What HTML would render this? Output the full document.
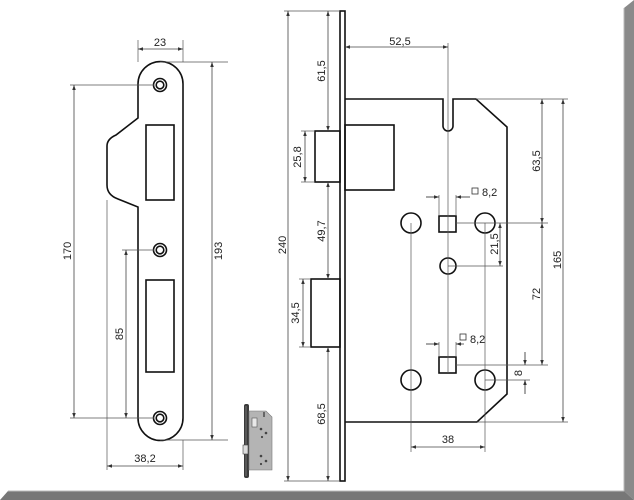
<!DOCTYPE html>
<html><head><meta charset="utf-8"><style>
html,body{margin:0;padding:0;background:#fff;width:634px;height:500px;overflow:hidden}
svg{display:block}
text{font-family:"Liberation Sans",sans-serif;font-size:11px;fill:#222}
</style></head><body>
<svg width="634" height="500" viewBox="0 0 634 500" xmlns="http://www.w3.org/2000/svg">
<defs>
<marker id="a" viewBox="0 0 10 10" refX="10" refY="5" markerWidth="7" markerHeight="5" orient="auto-start-reverse" markerUnits="userSpaceOnUse"><path d="M0,1.5 L10,5 L0,8.5z" fill="#333"/></marker>
</defs>
<polygon points="624,8 634,0 634,500 624,491" fill="#8a8a8a"/>
<polygon points="8,491 624,491 634,500 0,500" fill="#777"/>
<line x1="624" y1="8" x2="624" y2="491" stroke="#bbb" stroke-width="1"/>
<line x1="8" y1="491" x2="624" y2="491" stroke="#bbb" stroke-width="1"/>

<g fill="none" stroke="#111" stroke-width="1.6">
<path d="M138,84 A22.5,22.5 0 0 1 183,84 L183,418 A22.5,22.5 0 0 1 138,418 L138,207 L118,199 Q107,195 107,185 L107,146 Q107,139 116,135 L138,118 Z"/>
<rect x="146" y="125" width="28" height="75"/>
<rect x="146" y="280" width="28" height="92"/>
<circle cx="160" cy="85" r="6.5"/><circle cx="160" cy="85" r="3.8"/>
<circle cx="160" cy="250" r="6.5"/><circle cx="160" cy="250" r="3.8"/>
<circle cx="160" cy="418" r="6.5"/><circle cx="160" cy="418" r="3.8"/>
<rect x="340" y="11" width="5" height="470"/>
<path d="M345,99 L443,99 L443,126 A5,5 0 0 0 453,126 L453,99 L476,99 L507,127 L507,394 L477,422 L345,422"/>
<rect x="315" y="131" width="25" height="51"/>
<rect x="345" y="125" width="49" height="65"/>
<rect x="311" y="279" width="29" height="68"/>
<circle cx="411" cy="223" r="10"/><circle cx="485" cy="223" r="10"/>
<rect x="439" y="216" width="17" height="16"/>
<circle cx="448" cy="266" r="8"/>
<rect x="439" y="357" width="17" height="16"/>
<circle cx="411" cy="380" r="10"/><circle cx="485" cy="380" r="10"/>
</g>

<g stroke="#555" stroke-width="0.7" fill="none">
<line x1="138" y1="40" x2="138" y2="62"/><line x1="183" y1="40" x2="183" y2="62"/>
<line x1="160" y1="62" x2="228" y2="62"/><line x1="160" y1="440" x2="228" y2="440"/>
<line x1="70" y1="85" x2="154" y2="85"/><line x1="70" y1="418" x2="154" y2="418"/>
<line x1="122" y1="250" x2="154" y2="250"/>
<line x1="107" y1="200" x2="107" y2="470"/><line x1="183" y1="440" x2="183" y2="470"/>
<line x1="284" y1="11" x2="340" y2="11"/><line x1="284" y1="481" x2="340" y2="481"/>
<line x1="301" y1="131" x2="315" y2="131"/><line x1="301" y1="182" x2="315" y2="182"/>
<line x1="299" y1="279" x2="311" y2="279"/><line x1="299" y1="347" x2="311" y2="347"/>
<line x1="448" y1="43" x2="448" y2="373"/>
<line x1="411" y1="223" x2="411" y2="452"/><line x1="485" y1="223" x2="485" y2="452"/>
<line x1="476" y1="99" x2="568" y2="99"/><line x1="456" y1="223" x2="548" y2="223"/>
<line x1="456" y1="365" x2="548" y2="365"/><line x1="477" y1="422" x2="568" y2="422"/>
<line x1="448" y1="266" x2="503" y2="266"/><line x1="485" y1="380" x2="530" y2="380"/>
<line x1="439" y1="195" x2="439" y2="216"/><line x1="456" y1="195" x2="456" y2="216"/>
<line x1="439" y1="342" x2="439" y2="357"/><line x1="456" y1="342" x2="456" y2="357"/>
<line x1="426" y1="197" x2="439" y2="197"/><line x1="456" y1="197" x2="470" y2="197"/>
<line x1="426" y1="344" x2="439" y2="344"/><line x1="456" y1="344" x2="462" y2="344"/>
<line x1="525" y1="352" x2="525" y2="365"/><line x1="525" y1="380" x2="525" y2="394"/>
</g>
<g stroke="#444" stroke-width="0.8" fill="none" marker-start="url(#a)" marker-end="url(#a)">
<line x1="138" y1="49" x2="183" y2="49"/>
<line x1="212" y1="62" x2="212" y2="440"/>
<line x1="74" y1="85" x2="74" y2="418"/>
<line x1="126" y1="250" x2="126" y2="418"/>
<line x1="107" y1="466" x2="183" y2="466"/>
<line x1="288" y1="11" x2="288" y2="481"/>
<line x1="328" y1="11" x2="328" y2="131"/>
<line x1="305" y1="131" x2="305" y2="182"/>
<line x1="328" y1="182" x2="328" y2="279"/>
<line x1="303" y1="279" x2="303" y2="347"/>
<line x1="328" y1="347" x2="328" y2="481"/>
<line x1="345" y1="47" x2="448" y2="47"/>
<line x1="542" y1="99" x2="542" y2="223"/>
<line x1="563" y1="99" x2="563" y2="422"/>
<line x1="542" y1="223" x2="542" y2="365"/>
<line x1="500" y1="223" x2="500" y2="266"/>
<line x1="411" y1="447" x2="485" y2="447"/>
</g>
<g stroke="#444" stroke-width="0.8" marker-end="url(#a)">
<line x1="426" y1="197" x2="439" y2="197"/><line x1="470" y1="197" x2="456" y2="197"/>
<line x1="426" y1="344" x2="439" y2="344"/><line x1="464" y1="344" x2="456" y2="344"/>
<line x1="525" y1="352" x2="525" y2="365"/><line x1="525" y1="394" x2="525" y2="380"/>
</g>

<text x="160" y="46" text-anchor="middle">23</text>
<text x="145" y="462" text-anchor="middle">38,2</text>
<text transform="translate(222,251) rotate(-90)" text-anchor="middle">193</text>
<text transform="translate(71,251) rotate(-90)" text-anchor="middle">170</text>
<text transform="translate(123,334) rotate(-90)" text-anchor="middle">85</text>
<text transform="translate(286,245) rotate(-90)" text-anchor="middle">240</text>
<text transform="translate(325,71) rotate(-90)" text-anchor="middle">61,5</text>
<text transform="translate(301,157) rotate(-90)" text-anchor="middle">25,8</text>
<text transform="translate(325,231) rotate(-90)" text-anchor="middle">49,7</text>
<text transform="translate(299,313) rotate(-90)" text-anchor="middle">34,5</text>
<text transform="translate(325,414) rotate(-90)" text-anchor="middle">68,5</text>
<text x="400" y="45" text-anchor="middle">52,5</text>
<text transform="translate(540,161) rotate(-90)" text-anchor="middle">63,5</text>
<text transform="translate(561,260) rotate(-90)" text-anchor="middle">165</text>
<text transform="translate(540,294) rotate(-90)" text-anchor="middle">72</text>
<text transform="translate(498,244) rotate(-90)" text-anchor="middle">21,5</text>
<text transform="translate(522,373) rotate(-90)" text-anchor="middle">8</text>
<text x="448" y="443" text-anchor="middle">38</text>
<rect x="472" y="188" width="6" height="6" fill="none" stroke="#333" stroke-width="0.8"/>
<text x="482" y="196">8,2</text>
<rect x="460" y="334" width="6" height="6" fill="none" stroke="#333" stroke-width="0.8"/>
<text x="470" y="343">8,2</text>

<rect x="244" y="404" width="5" height="74" rx="2" fill="#3a3a3a"/>
<line x1="246" y1="406" x2="246" y2="476" stroke="#777" stroke-width="1"/>
<polygon points="249,411 266,411 272,417 272,470 249,470" fill="#b4b4b4" stroke="#777" stroke-width="0.6"/>
<rect x="252" y="418" width="5" height="9" fill="#e8e8e8" stroke="#555" stroke-width="0.6"/>
<rect x="243" y="445" width="5" height="9" fill="#ddd" stroke="#444" stroke-width="0.6"/>
<circle cx="261" cy="429" r="1.3" fill="#444"/><circle cx="266" cy="433" r="1.3" fill="#444"/><circle cx="262" cy="437" r="1.1" fill="#444"/>
<circle cx="261" cy="456" r="1.3" fill="#444"/><circle cx="266" cy="461" r="1.3" fill="#444"/><circle cx="261" cy="464" r="1.1" fill="#444"/>
<rect x="263" y="412" width="2" height="5" fill="#666"/>
</svg>
</body></html>
